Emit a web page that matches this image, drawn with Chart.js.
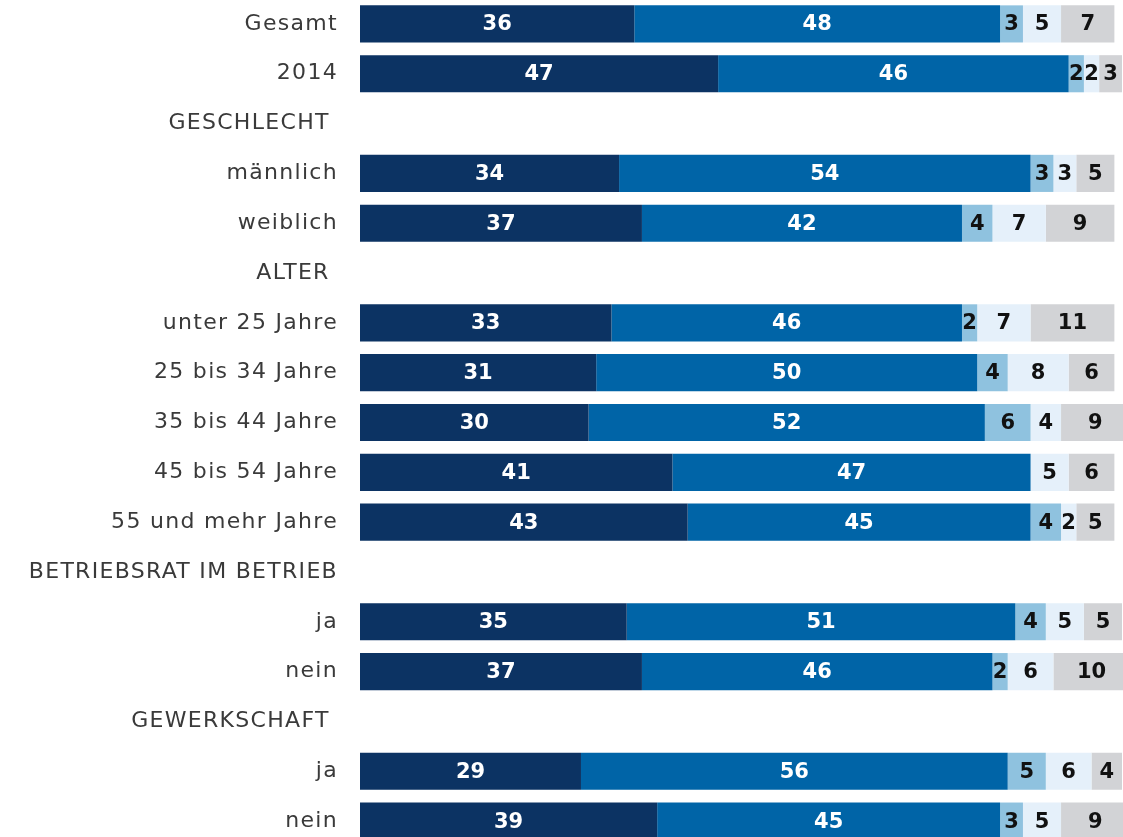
<!DOCTYPE html>
<html>
<head>
<meta charset="utf-8">
<script src="https://cdn.jsdelivr.net/npm/chart.js@4.4.1/dist/chart.umd.min.js"></script>
<style>
  html, body { margin: 0; padding: 0; background: #fff; overflow: hidden; }
  #wrap { position: relative; width: 1123px; height: 847px; margin-top: -1px; }
</style>
</head>
<body>
<div id="wrap"><canvas id="stackChart"></canvas></div>
<script>
const categories = [
  'Gesamt', '2014', 'GESCHLECHT ', 'männlich', 'weiblich', 'ALTER ',
  'unter 25 Jahre', '25 bis 34 Jahre', '35 bis 44 Jahre', '45 bis 54 Jahre', '55 und mehr Jahre',
  'BETRIEBSRAT IM BETRIEB', 'ja', 'nein', 'GEWERKSCHAFT ', 'ja', 'nein'
];
// null = section heading row
const seriesA = [36, 47, null, 34, 37, null, 33, 31, 30, 41, 43, null, 35, 37, null, 29, 39];
const seriesB = [48, 46, null, 54, 42, null, 46, 50, 52, 47, 45, null, 51, 46, null, 56, 45];
const seriesC = [3, 2, null, 3, 4, null, 2, 4, 6, 0, 4, null, 4, 2, null, 5, 3];
const seriesD = [5, 2, null, 3, 7, null, 7, 8, 4, 5, 2, null, 5, 6, null, 6, 5];
const seriesE = [7, 3, null, 5, 9, null, 11, 6, 9, 6, 5, null, 5, 10, null, 4, 9];

const colors = ['#0c3363', '#0064a7', '#8fc2df', '#e5f0fa', '#d2d3d6'];
const textColors = ['#ffffff', '#ffffff', '#111111', '#111111', '#111111'];

// wider category text (the original font is broader than DejaVu)
const labelSpacing = {
  id: 'labelSpacing',
  beforeDraw(chart) { chart.ctx.letterSpacing = '1.3px'; },
  beforeDatasetsDraw(chart) { chart.ctx.letterSpacing = '0px'; },
};

const segmentLabels = {
  id: 'segmentLabels',
  afterDatasetsDraw(chart) {
    const ctx = chart.ctx;
    ctx.save();
    ctx.letterSpacing = '0px';
    ctx.font = 'bold 21px "DejaVu Sans"';
    ctx.textAlign = 'center';
    ctx.textBaseline = 'middle';
    chart.data.datasets.forEach((ds, i) => {
      chart.getDatasetMeta(i).data.forEach((bar, j) => {
        const v = ds.data[j];
        if (!v) return;
        ctx.fillStyle = textColors[i];
        ctx.fillText(String(v), (bar.x + bar.base) / 2, bar.y + 1);
      });
    });
    ctx.restore();
  }
};

const ctx = document.getElementById('stackChart').getContext('2d');
new Chart(ctx, {
  type: 'bar',
  data: {
    labels: categories,
    datasets: [seriesA, seriesB, seriesC, seriesD, seriesE].map((d, i) => ({
      data: d,
      backgroundColor: colors[i],
      borderWidth: 0,
      barPercentage: 0.745,
      categoryPercentage: 1,
      clip: false,
    })),
  },
  options: {
    indexAxis: 'y',
    responsive: true,
    maintainAspectRatio: false,
    animation: false,
    layout: { autoPadding: false, padding: { left: 0, right: 1, top: 0, bottom: 0 } },
    plugins: {
      legend: { display: false },
      tooltip: { enabled: false },
    },
    scales: {
      x: {
        stacked: true,
        min: 0,
        max: 100,
        display: false,
      },
      y: {
        stacked: true,
        grid: { display: false, drawTicks: false },
        border: { display: false },
        afterFit: (scale) => {
          scale.width = 360;
          scale.paddingTop = 0;
          scale.paddingBottom = 0;
        },
        ticks: {
          padding: 22,
          color: '#3a3a3a',
          font: { family: 'DejaVu Sans', size: 22 },
        },
      },
    },
  },
  plugins: [labelSpacing, segmentLabels],
});
</script>
</body>
</html>
